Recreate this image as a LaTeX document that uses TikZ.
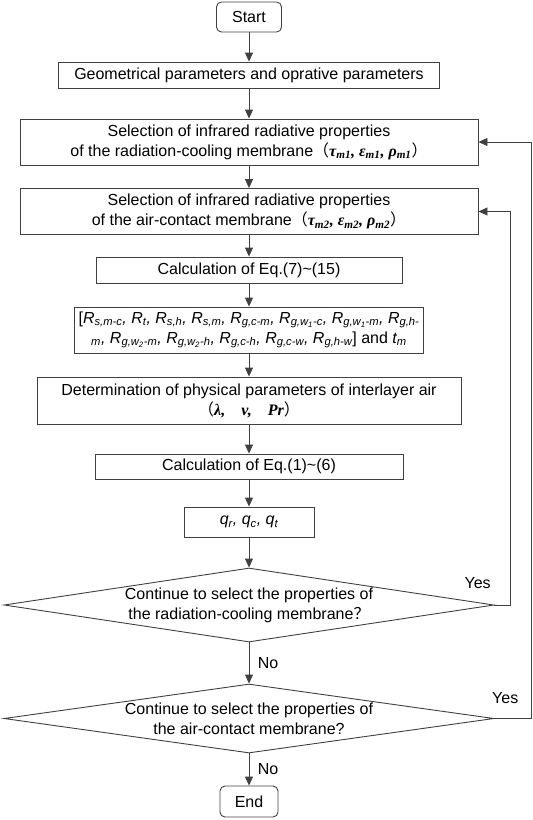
\documentclass[tikz,border=0pt]{standalone}
\usepackage{fontspec}
\setmainfont{Liberation Sans}
\newfontfamily\timesf{Liberation Serif}
\newfontfamily\cjk{Noto Sans CJK SC}
\usetikzlibrary{shapes.geometric, arrows.meta}
\newcommand{\boldgreek}[1]{{\timesf\bfseries\itshape #1}}
\tikzstyle{startstop} = [rectangle, rounded corners=5pt, draw=black!75,
                         line width=0.9pt, text centered, inner sep=0pt,
                         font=\fontsize{16}{20}\selectfont]
\tikzstyle{process} = [rectangle, draw=black!75, line width=0.9pt,
                       align=center, inner sep=0pt,
                       font=\fontsize{16}{20}\selectfont]
\tikzstyle{decision} = [diamond, draw=black!75, line width=0.9pt,
                        align=center, inner sep=0pt,
                        font=\fontsize{16}{20}\selectfont]
\tikzstyle{answer} = [font=\fontsize{16}{20}\selectfont]
\tikzstyle{arrow} = [line width=0.9pt, draw=black!75, -{Triangle[length=9pt,width=8pt]}]

\begin{document}
\begin{tikzpicture}[x=1pt, y=-1pt]
        \useasboundingbox (0,0) rectangle (533,820);

        \node (Start) [startstop, minimum width=65pt, minimum height=30pt] at (249,17) {Start};

        \node (Geometry) [process, minimum width=381pt, minimum height=26pt] at (249,75)
              {Geometrical parameters and oprative parameters};

        \node (Select1) [process, minimum width=458pt, minimum height=46pt] at (249,142)
              {Selection of infrared radiative properties\\
               of the radiation-cooling membrane{\cjk （}\boldgreek{τ\textsubscript{m1}, ε\textsubscript{m1}, ρ\textsubscript{m1}}{\cjk ）}};

        \node (Select2) [process, minimum width=458pt, minimum height=46pt] at (249,211.5)
              {Selection of infrared radiative properties\\
               of the air-contact membrane{\cjk （}\boldgreek{τ\textsubscript{m2}, ε\textsubscript{m2}, ρ\textsubscript{m2}}{\cjk ）}};

        \node (Calc1) [process, minimum width=306pt, minimum height=26pt] at (249,270)
              {Calculation of Eq.(7)\textasciitilde(15)};

        \node (Resist) [process, minimum width=349pt, minimum height=46pt] at (249,330)
              {[{\itshape R\textsubscript{s,m-c}, R\textsubscript{t}, R\textsubscript{s,h}, R\textsubscript{s,m}, R\textsubscript{g,c-m}, R\textsubscript{g,w\textsubscript{1}-c}, R\textsubscript{g,w\textsubscript{1}-m}, R\textsubscript{g,h-}}\\
               {\itshape \textsubscript{m}, R\textsubscript{g,w\textsubscript{2}-m}, R\textsubscript{g,w\textsubscript{2}-h}, R\textsubscript{g,c-h}, R\textsubscript{g,c-w}, R\textsubscript{g,h-w}}] and {\itshape t\textsubscript{m}}};

        \node (Air) [process, minimum width=424pt, minimum height=47pt] at (249,400.5)
              {Determination of physical parameters of interlayer air\\
               {\cjk （}\boldgreek{λ,\quad v,\quad Pr}{\cjk ）}};

        \node (Calc2) [process, minimum width=308pt, minimum height=25pt] at (249,466.5)
              {Calculation of Eq.(1)\textasciitilde(6)};

        \node (Flux) [process, minimum width=130pt, minimum height=30pt] at (249,522)
              {{\itshape q\textsubscript{r}, q\textsubscript{c}, q\textsubscript{t}}};

        \node (Decide1) [decision, aspect=6.6, minimum width=490pt, minimum height=74pt] at (249,605)
              {Continue to select the properties of\\
               the radiation-cooling membrane{\cjk ？}};

        \node (Decide2) [decision, aspect=7, inner ysep=-2pt, minimum width=490pt, minimum height=69pt] at (249,718.5)
              {Continue to select the properties of\\
               the air-contact membrane?};

        \node (End) [startstop, minimum width=58pt, minimum height=31pt] at (249,801.5) {End};

        \coordinate (Loop2) at (510,0);
        \coordinate (Loop1) at (531,0);

        \draw [arrow] (Start) -- (Geometry);
        \draw [arrow] (Geometry) -- (Select1);
        \draw [arrow] (Select1) -- (Select2);
        \draw [arrow] (Select2) -- (Calc1);
        \draw [arrow] (Calc1) -- (Resist);
        \draw [arrow] (Resist) -- (Air);
        \draw [arrow] (Air) -- (Calc2);
        \draw [arrow] (Calc2) -- (Flux);
        \draw [arrow] (Flux) -- (Decide1);
        \draw [arrow] (Decide1) -- node[answer, right, xshift=5pt] {No} (Decide2);
        \draw [arrow] (Decide2) -- node[answer, right, xshift=5pt] {No} (End);

        % back to the membranes
        \draw [arrow] (Decide1.east) -| node[answer, pos=0, anchor=south east, yshift=13pt] {Yes}
              (Loop2 |- Select2.east) -- (Select2.east);
        \draw [arrow] (Decide2.east) -| node[answer, pos=0, anchor=south west, xshift=-6pt, yshift=11pt] {Yes}
              (Loop1 |- Select1.east) -- (Select1.east);

\end{tikzpicture}
\end{document}
